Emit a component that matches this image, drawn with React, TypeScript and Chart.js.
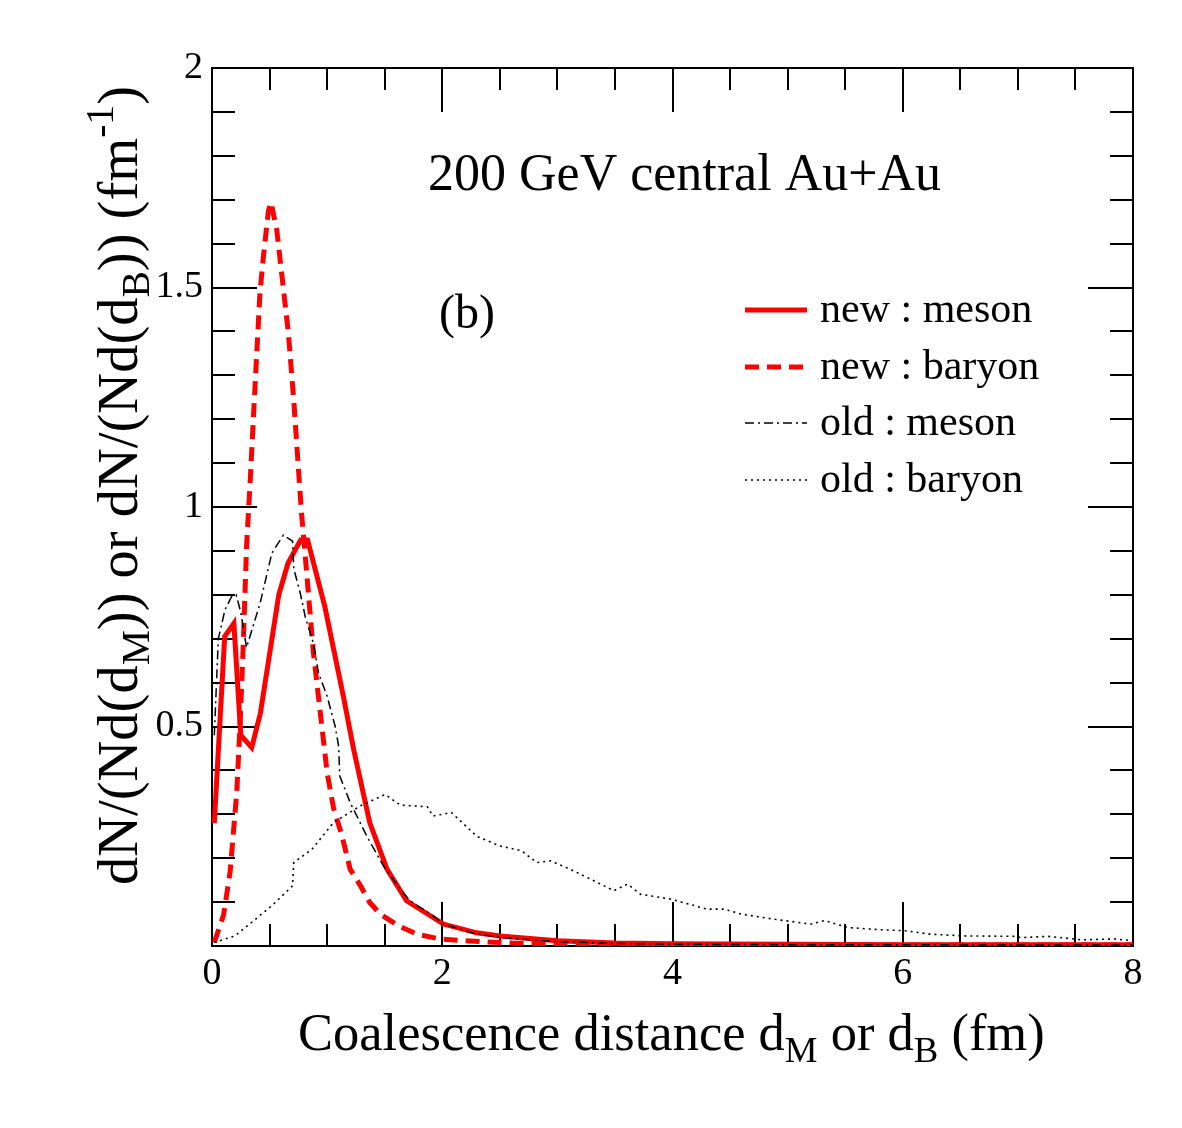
import React, { useEffect, useRef } from "react";
import { Chart, registerables } from "chart.js";

Chart.register(...registerables);

// ---- data: coalescence distance (fm) vs normalised distribution (1/fm) ----
const newMesonX = [0.02, 0.11, 0.19, 0.25, 0.345, 0.42, 0.58, 0.66, 0.77, 0.83, 0.98, 1.14, 1.23, 1.37, 1.52, 1.69, 2.01, 2.3, 2.5, 3.0, 3.5, 4.0, 5.0, 6.0, 7.0, 8.0];
const newMesonY = [0.28, 0.705, 0.735, 0.48, 0.452, 0.53, 0.8, 0.872, 0.925, 0.925, 0.773, 0.57, 0.448, 0.281, 0.175, 0.103, 0.05, 0.03, 0.023, 0.012, 0.007, 0.005, 0.004, 0.003, 0.003, 0.003];

const newBaryonX = [0.02, 0.1, 0.157, 0.215, 0.243, 0.27, 0.3, 0.33, 0.36, 0.39, 0.417, 0.446, 0.49, 0.513, 0.563, 0.606, 0.664, 0.71, 0.75, 0.78, 0.8, 0.88, 0.95, 1.0, 1.055, 1.13, 1.2, 1.29, 1.37, 1.46, 1.62, 1.78, 1.98, 2.33, 2.6, 3.0, 3.5, 4.0, 5.0, 6.0, 7.0, 8.0];
const newBaryonY = [0.008, 0.07, 0.168, 0.35, 0.5, 0.675, 0.91, 1.05, 1.205, 1.357, 1.49, 1.569, 1.675, 1.694, 1.63, 1.53, 1.395, 1.243, 1.09, 0.978, 0.92, 0.67, 0.51, 0.395, 0.315, 0.25, 0.175, 0.137, 0.099, 0.073, 0.046, 0.027, 0.016, 0.01, 0.007, 0.005, 0.004, 0.003, 0.003, 0.002, 0.002, 0.002];

const oldMesonX = [0.02, 0.055, 0.113, 0.17, 0.21, 0.25, 0.3, 0.417, 0.52, 0.62, 0.7, 0.71, 0.77, 0.81, 0.88, 0.925, 1.0, 1.07, 1.1, 1.11, 1.2, 1.345, 1.49, 1.635, 1.72, 1.92, 2.01, 2.3, 2.6, 3.0, 3.5, 4.0, 5.0, 6.0, 7.0, 8.0];
const oldMesonY = [0.48, 0.7, 0.766, 0.796, 0.8, 0.76, 0.68, 0.78, 0.895, 0.936, 0.922, 0.86, 0.8, 0.75, 0.69, 0.622, 0.569, 0.5, 0.455, 0.387, 0.327, 0.25, 0.182, 0.13, 0.103, 0.069, 0.05, 0.027, 0.017, 0.01, 0.006, 0.004, 0.003, 0.003, 0.002, 0.002];

const oldBaryonX = [0.02, 0.2, 0.345, 0.52, 0.7, 0.71, 0.867, 1.055, 1.287, 1.504, 1.635, 1.87, 1.92, 2.08, 2.3, 2.5, 2.69, 2.82, 2.94, 3.11, 3.26, 3.49, 3.61, 3.72, 3.98, 4.3, 4.45, 4.59, 4.88, 5.2, 5.32, 5.52, 5.81, 6.01, 6.24, 6.53, 6.97, 7.03, 7.26, 7.49, 7.55, 7.84, 8.0];
const oldBaryonY = [0.008, 0.023, 0.054, 0.092, 0.137, 0.19, 0.22, 0.281, 0.319, 0.345, 0.321, 0.317, 0.296, 0.304, 0.25, 0.228, 0.217, 0.19, 0.194, 0.175, 0.156, 0.126, 0.141, 0.118, 0.107, 0.084, 0.084, 0.073, 0.061, 0.05, 0.058, 0.042, 0.037, 0.035, 0.027, 0.023, 0.022, 0.019, 0.022, 0.016, 0.014, 0.016, 0.012];

const seriesLabels = ["new : meson", "new : baryon", "old : meson", "old : baryon"];

// axis ranges and tick spacing
const X_MIN = 0, X_MAX = 8, X_MAJOR = 2, X_MINOR = 0.5;
const Y_MIN = 0, Y_MAX = 2, Y_MAJOR = 0.5, Y_MINOR = 0.1;

const PLOT_TITLE = "200 GeV central Au+Au";
const PANEL_TAG = "(b)";

const FONT = "'Liberation Serif', 'Times New Roman', serif";
const W = 1166;
const H = 1112;

type Part = { t: string; m?: "sub" | "sup" };

const X_TITLE: Part[] = [
  { t: "Coalescence distance d" }, { t: "M", m: "sub" }, { t: " or d" }, { t: "B", m: "sub" }, { t: " (fm)" },
];
const Y_TITLE: Part[] = [
  { t: "dN/(Nd(d" }, { t: "M", m: "sub" }, { t: ")) or dN/(Nd(d" }, { t: "B", m: "sub" },
  { t: ")) (fm" }, { t: "-1", m: "sup" }, { t: ")" },
];

const zip = (xs: number[], ys: number[]) => xs.map((x, i) => ({ x, y: ys[i] }));

function drawRich(ctx: CanvasRenderingContext2D, parts: Part[], x: number, y: number, size: number) {
  let cx = x;
  ctx.textAlign = "left";
  ctx.textBaseline = "alphabetic";
  for (const p of parts) {
    const s = p.m ? size * 0.7 : size;
    const dy = p.m === "sub" ? size * 0.22 : p.m === "sup" ? -size * 0.42 : 0;
    ctx.font = `${s}px ${FONT}`;
    ctx.fillText(p.t, cx, y + dy);
    cx += ctx.measureText(p.t).width;
  }
}

const framePlugin = {
  id: "frameAndTicks",
  beforeDatasetsDraw(chart: any) {
    const { ctx, chartArea: a, scales } = chart;
    const xs = scales.x;
    const ys = scales.y;
    ctx.save();
    ctx.strokeStyle = "#000";
    ctx.lineWidth = 2;
    ctx.strokeRect(a.left, a.top, a.right - a.left, a.bottom - a.top);
    ctx.beginPath();
    const nx = Math.round((X_MAX - X_MIN) / X_MINOR);
    for (let i = 1; i < nx; i++) {
      const v = X_MIN + i * X_MINOR;
      const major = Math.abs(v / X_MAJOR - Math.round(v / X_MAJOR)) < 1e-6;
      const len = major ? 44 : 22;
      const px = Math.round(xs.getPixelForValue(v));
      ctx.moveTo(px, a.bottom);
      ctx.lineTo(px, a.bottom - len);
      ctx.moveTo(px, a.top);
      ctx.lineTo(px, a.top + len);
    }
    const ny = Math.round((Y_MAX - Y_MIN) / Y_MINOR);
    for (let i = 1; i < ny; i++) {
      const v = Y_MIN + i * Y_MINOR;
      const major = Math.abs(v / Y_MAJOR - Math.round(v / Y_MAJOR)) < 1e-6;
      const len = major ? 45 : 23;
      const py = Math.round(ys.getPixelForValue(v));
      ctx.moveTo(a.left, py);
      ctx.lineTo(a.left + len, py);
      ctx.moveTo(a.right, py);
      ctx.lineTo(a.right - len, py);
    }
    ctx.stroke();
    ctx.restore();
  },
  afterDraw(chart: any) {
    const { ctx } = chart;
    ctx.save();
    ctx.fillStyle = "#000";

    // axis titles
    drawRich(ctx, X_TITLE, 290, 1042, 52.5);
    ctx.save();
    ctx.translate(129, 877);
    ctx.rotate(-Math.PI / 2);
    drawRich(ctx, Y_TITLE, 0, 0, 56.5);
    ctx.restore();

    // in-plot annotations
    ctx.font = `52px ${FONT}`;
    ctx.textAlign = "left";
    ctx.textBaseline = "alphabetic";
    ctx.fillText(PLOT_TITLE, 420, 182);
    ctx.font = `48px ${FONT}`;
    ctx.fillText(PANEL_TAG, 431, 320);

    // legend
    const ds = chart.data.datasets;
    const rowY = [302, 359, 415, 472];
    ds.forEach((d: any, i: number) => {
      const y = rowY[i];
      ctx.beginPath();
      ctx.strokeStyle = d.borderColor;
      ctx.lineWidth = d.borderWidth;
      ctx.setLineDash(d.borderDash || []);
      ctx.moveTo(737, y);
      ctx.lineTo(799, y);
      ctx.stroke();
      ctx.setLineDash([]);
      ctx.fillStyle = "#000";
      ctx.font = `42px ${FONT}`;
      ctx.fillText(d.label, 812, y + 12);
    });
    ctx.restore();
  },
};

export default function App() {
  const ref = useRef<HTMLCanvasElement | null>(null);

  useEffect(() => {
    if (!ref.current) return;
    const tickFont = { family: FONT, size: 38 };
    const chart = new Chart(ref.current, {
      type: "line",
      data: {
        datasets: [
          {
            label: seriesLabels[0],
            data: zip(newMesonX, newMesonY),
            borderColor: "#ff0000",
            borderWidth: 5,
            borderDash: [],
            order: 2,
          },
          {
            label: seriesLabels[1],
            data: zip(newBaryonX, newBaryonY),
            borderColor: "#ff0000",
            borderWidth: 5,
            borderDash: [14, 8],
            order: 3,
          },
          {
            label: seriesLabels[2],
            data: zip(oldMesonX, oldMesonY),
            borderColor: "#000000",
            borderWidth: 1.5,
            borderDash: [9, 4, 2, 4],
            order: 0,
          },
          {
            label: seriesLabels[3],
            data: zip(oldBaryonX, oldBaryonY),
            borderColor: "#000000",
            borderWidth: 1.6,
            borderDash: [2, 4],
            order: 1,
          },
        ] as any,
      },
      options: {
        responsive: false,
        animation: false,
        parsing: true,
        elements: {
          point: { radius: 0, hoverRadius: 0 },
          line: { tension: 0, fill: false, borderJoinStyle: "miter", borderCapStyle: "butt" },
        },
        layout: { padding: { left: 104, right: 41, top: 60, bottom: 114 } },
        plugins: {
          legend: { display: false },
          tooltip: { enabled: false },
          title: { display: false },
        },
        scales: {
          x: {
            type: "linear",
            min: X_MIN,
            max: X_MAX,
            grid: { display: false, drawTicks: false, tickLength: 0 },
            border: { display: false },
            ticks: {
              stepSize: X_MAJOR,
              font: tickFont,
              color: "#000",
              padding: 5,
              maxRotation: 0,
              callback: (v: any) => String(v),
            },
            afterFit: (s: any) => {
              s.height = 60;
            },
          },
          y: {
            type: "linear",
            min: Y_MIN,
            max: Y_MAX,
            grid: { display: false, drawTicks: false, tickLength: 0 },
            border: { display: false },
            ticks: {
              stepSize: Y_MAJOR,
              font: tickFont,
              color: "#000",
              padding: 9,
              callback: (v: any) => (v === 0 ? "" : String(v)),
            },
            afterFit: (s: any) => {
              s.width = 100;
            },
          },
        },
      },
      plugins: [framePlugin],
    });
    return () => chart.destroy();
  }, []);

  return (
    <div style={{ width: W, height: H, background: "#fff" }}>
      <canvas ref={ref} width={W} height={H} style={{ display: "block", width: W, height: H }} />
    </div>
  );
}
